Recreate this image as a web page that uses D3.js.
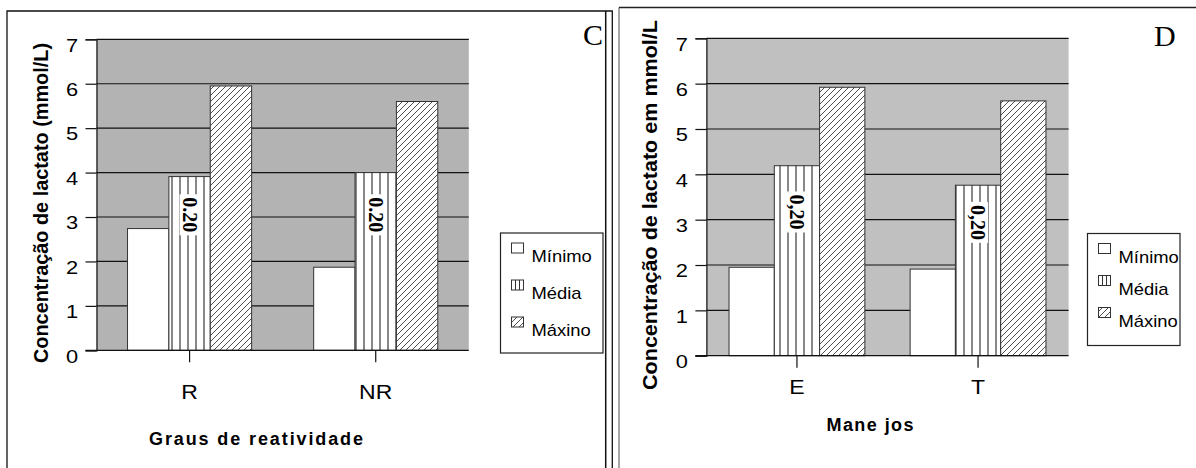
<!DOCTYPE html>
<html>
<head>
<meta charset="utf-8">
<script src="https://cdn.jsdelivr.net/npm/d3@7"></script>
<style>
  html, body { margin: 0; padding: 0; background: #fff; }
  svg { display: block; }
</style>
</head>
<body>
<div id="chart"></div>
<script>
// data
const seriesNames = ["Mínimo", "Média", "Máxino"];
const yTicks = [0, 1, 2, 3, 4, 5, 6, 7];

const catsC = ["R", "NR"];
const minimoC = [2.74, 1.87];
const mediaC = [3.91, 4.0];
const maximoC = [5.95, 5.6];
const labelTextC = "0.20";
const labelPosC = [3.05, 3.05];

const catsD = ["E", "T"];
const minimoD = [1.95, 1.91];
const mediaD = [4.19, 3.76];
const maximoD = [5.92, 5.62];
const labelTextD = "0,20";
const labelPosD = [3.17, 2.94];

const SANS = "Arial, 'Liberation Sans', sans-serif";
const SERIF = "'Times New Roman', 'Liberation Serif', serif";
const SX = 1.15; // glyphs in the picture are a bit wide

const svg = d3.select("#chart").append("svg").attr("width", 1196).attr("height", 468);

// patterns
const defs = svg.append("defs");
const pv = defs.append("pattern").attr("id", "stripeV").attr("patternUnits", "userSpaceOnUse")
  .attr("width", 8).attr("height", 10);
pv.append("rect").attr("width", 8).attr("height", 10).attr("fill", "#fff");
pv.append("line").attr("x1", 4).attr("x2", 4).attr("y1", 0).attr("y2", 10)
  .attr("stroke", "#111").attr("stroke-width", 1);

const ph = defs.append("pattern").attr("id", "hatch").attr("patternUnits", "userSpaceOnUse")
  .attr("width", 6).attr("height", 6);
ph.append("rect").attr("width", 6).attr("height", 6).attr("fill", "#fff");
ph.append("path").attr("d", "M-1,1 L1,-1 M0,6 L6,0 M5,7 L7,5")
  .attr("stroke", "#222").attr("stroke-width", 0.8);

const fills = ["#fff", "url(#stripeV)", "url(#hatch)"];

function drawPanel(p) {
  const g = svg.append("g");
  const { left, right, top, bottom } = p.plot;

  const x = d3.scaleBand().domain(p.cats).range([left, right]);
  const xs = d3.scaleBand().domain(seriesNames).range([0, x.bandwidth()]).paddingOuter(p.outer);
  const y = d3.scaleLinear().domain([0, 7]).range([bottom, top]);

  // plot area
  g.append("rect").attr("x", left).attr("y", top).attr("width", right - left).attr("height", bottom - top)
    .attr("fill", p.bg);

  // gridlines
  g.selectAll(".grid").data(yTicks.slice(1)).enter().append("line")
    .attr("x1", left).attr("x2", right).attr("y1", d => y(d)).attr("y2", d => y(d))
    .attr("stroke", "#111").attr("stroke-width", 1.2);

  // bars
  const rows = p.cats.map((c, i) => ({ cat: c, vals: [p.minimo[i], p.media[i], p.maximo[i]] }));
  rows.forEach(r => {
    g.selectAll(null).data(r.vals).enter().append("rect")
      .attr("x", (d, j) => x(r.cat) + xs(seriesNames[j]))
      .attr("y", d => y(d))
      .attr("width", xs.bandwidth())
      .attr("height", d => y(0) - y(d))
      .attr("fill", (d, j) => fills[j])
      .attr("stroke", "#333").attr("stroke-width", 1);
  });

  // data labels on the Média bars
  p.cats.forEach((c, i) => {
    const cx = x(c) + xs("Média") + xs.bandwidth() / 2;
    const lg = g.append("g").attr("transform", `translate(${cx},${y(p.labelPos[i])}) rotate(90)`);
    const bg = lg.append("rect").attr("fill", "#fff");
    const t = lg.append("text").attr("text-anchor", "middle").attr("dominant-baseline", "central")
      .style("font-family", SERIF).style("font-weight", "bold").style("font-size", "20px")
      .text(p.labelText);
    const b = t.node().getBBox();
    bg.attr("x", b.x - 3).attr("y", b.y + 1).attr("width", b.width + 6).attr("height", b.height - 2);
  });

  // y axis
  const ya = g.append("g").attr("transform", `translate(${left},0)`)
    .call(d3.axisLeft(y).tickValues(yTicks).tickFormat(d3.format("d")).tickSize(11).tickPadding(5));
  ya.select(".domain").attr("stroke", "#111").attr("stroke-width", 1.2);
  ya.selectAll(".tick line").attr("stroke", "#111").attr("stroke-width", 1.2);
  ya.selectAll(".tick text").attr("transform", `scale(${SX},1)`).attr("dy", "0.62em")
    .style("font-family", SANS).style("font-size", "19px").attr("fill", "#000");

  // x axis
  const xa = g.append("g").attr("transform", `translate(0,${bottom})`)
    .call(d3.axisBottom(x).tickSize(12).tickFormat(""));
  xa.select(".domain").attr("d", `M${left - 11},0H${right}`).attr("stroke", "#111").attr("stroke-width", 1.2);
  xa.selectAll(".tick line").attr("stroke", "#111").attr("stroke-width", 1.2);

  g.selectAll(".catlab").data(p.cats).enter().append("text")
    .attr("transform", d => `translate(${x(d) + x.bandwidth() / 2},${p.catY}) scale(${SX},1)`)
    .attr("text-anchor", "middle")
    .style("font-family", SANS).style("font-size", "20px")
    .text(d => d);

  // axis titles
  g.append("text")
    .attr("x", p.xTitle.x).attr("y", p.xTitle.y)
    .attr("text-anchor", "middle")
    .attr("textLength", p.xTitle.len).attr("lengthAdjust", "spacing")
    .style("font-family", SANS).style("font-weight", "bold").style("font-size", "18px")
    .text(p.xTitle.text);

  g.append("text")
    .attr("transform", `translate(${p.yTitle.x},${p.yTitle.y}) rotate(-90)`)
    .attr("text-anchor", "middle")
    .attr("textLength", p.yTitle.len).attr("lengthAdjust", "spacingAndGlyphs")
    .style("font-family", SANS).style("font-weight", "bold").style("font-size", "20px")
    .text(p.yTitle.text);

  // panel letter
  g.append("text").attr("x", p.letter.x).attr("y", p.letter.y)
    .style("font-family", SERIF).style("font-size", "30px").text(p.letter.text);

  // legend
  const L = p.legend;
  g.append("rect").attr("x", L.x).attr("y", L.y).attr("width", L.w).attr("height", L.h)
    .attr("fill", "#fff").attr("stroke", "#222").attr("stroke-width", 1.2);
  seriesNames.forEach((s, j) => {
    const sy = L.y + 10 + j * L.step;
    g.append("rect").attr("x", L.x + 11).attr("y", sy).attr("width", 12).attr("height", 10)
      .attr("fill", j === 1 ? "#fff" : fills[j]).attr("stroke", "#333").attr("stroke-width", 1);
    if (j === 1) {
      [4, 8].forEach(dx => g.append("line").attr("x1", L.x + 11 + dx).attr("x2", L.x + 11 + dx)
        .attr("y1", sy).attr("y2", sy + 10).attr("stroke", "#333"));
    }
    g.append("text")
      .attr("transform", `translate(${L.x + 31},${sy + 19}) scale(${SX},1)`)
      .style("font-family", SANS).style("font-size", "16px").text(s);
  });
}

drawPanel({
  cats: catsC, minimo: minimoC, media: mediaC, maximo: maximoC,
  labelText: labelTextC, labelPos: labelPosC,
  plot: { left: 96.5, right: 468.8, top: 39.3, bottom: 350.3 },
  outer: 0.75, bg: "#b3b3b3", catY: 399,
  xTitle: { text: "Graus de reatividade", x: 256, y: 445, len: 214 },
  yTitle: { text: "Concentração de lactato (mmol/L)", x: 48, y: 203, len: 320 },
  letter: { text: "C", x: 583, y: 45 },
  legend: { x: 500.5, y: 233, w: 102.5, h: 120, step: 37 }
});

drawPanel({
  cats: catsD, minimo: minimoD, media: mediaD, maximo: maximoD,
  labelText: labelTextD, labelPos: labelPosD,
  plot: { left: 706.4, right: 1068.6, top: 38.3, bottom: 355.7 },
  outer: 0.5, bg: "#c0c0c0", catY: 394,
  xTitle: { text: "Mane jos", x: 870, y: 431, len: 87 },
  yTitle: { text: "Concentração de lactato em mmol/L", x: 657, y: 205, len: 370 },
  letter: { text: "D", x: 1154, y: 46 },
  legend: { x: 1087.5, y: 233.5, w: 92.5, h: 112, step: 32 }
});

// outer frames
const fr = svg.append("g").attr("fill", "none");
fr.append("path").attr("d", "M7,468V11H612.3V468").attr("stroke", "#111").attr("stroke-width", 1.3);
fr.append("line").attr("x1", 605.7).attr("x2", 605.7).attr("y1", 11).attr("y2", 468)
  .attr("stroke", "#111").attr("stroke-width", 1.5);
fr.append("line").attr("x1", 619).attr("x2", 619).attr("y1", 7.5).attr("y2", 468)
  .attr("stroke", "#888").attr("stroke-width", 1.5);
fr.append("line").attr("x1", 619).attr("x2", 1196).attr("y1", 7.5).attr("y2", 7.5)
  .attr("stroke", "#222").attr("stroke-width", 1.3);
</script>
</body>
</html>
